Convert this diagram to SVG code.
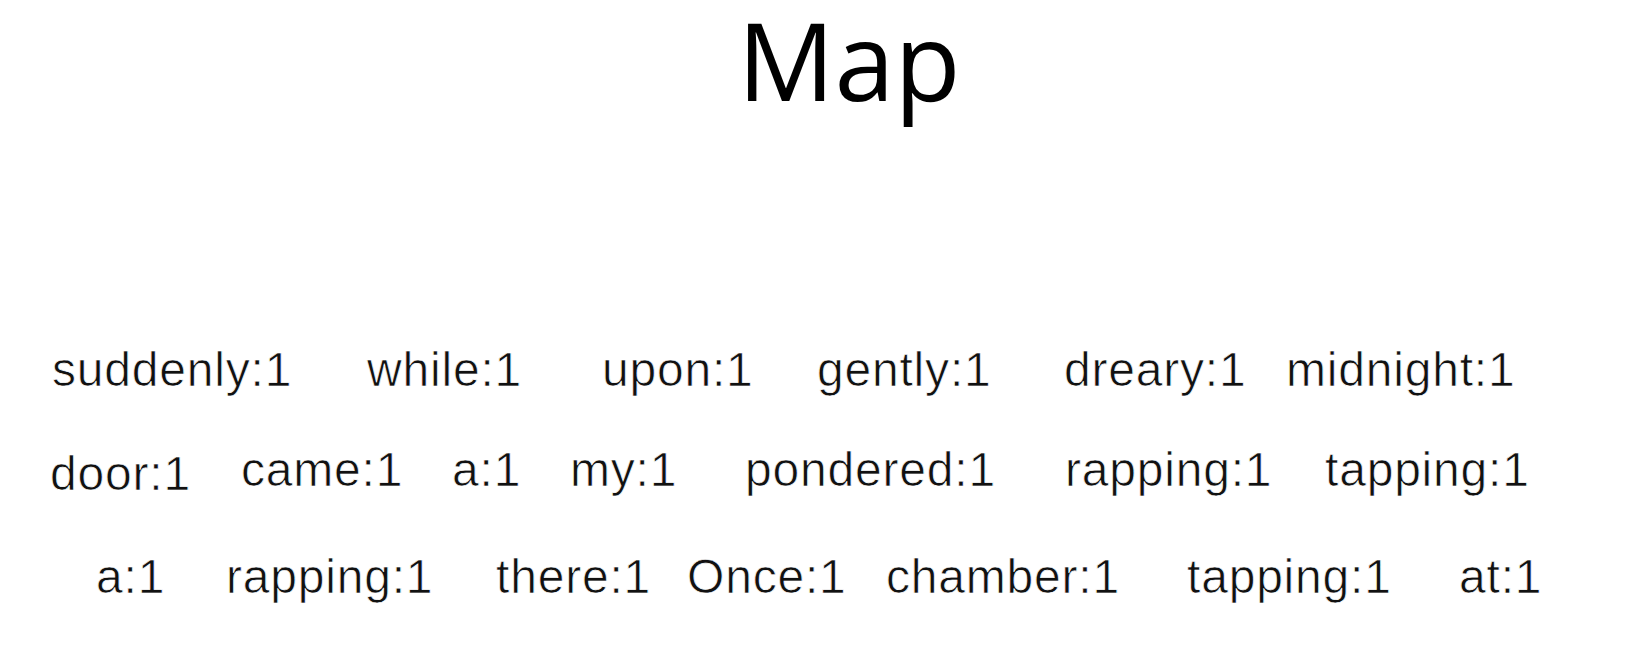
<svg xmlns="http://www.w3.org/2000/svg" width="1646" height="668" viewBox="0 0 1646 668">
<style>
.title{font-family:"Open Sans","Noto Sans",sans-serif;font-size:108px;fill:#000}
.w{font-family:"Liberation Sans",Arial,sans-serif;font-size:48px;letter-spacing:0.8px;fill:#111;stroke:#ffffff;stroke-width:0.7px}
</style>
<rect width="1646" height="668" fill="#ffffff"/>
<g id="title"><text class="title" x="849" y="101" text-anchor="middle">Map</text></g>
<g id="row1">
<g id="w1"><text class="w" x="52" y="386">suddenly:1</text></g>
<g id="w2"><text class="w" x="367" y="386">while:1</text></g>
<g id="w3"><text class="w" x="602" y="386">upon:1</text></g>
<g id="w4"><text class="w" x="817" y="386">gently:1</text></g>
<g id="w5"><text class="w" x="1064" y="386">dreary:1</text></g>
<g id="w6"><text class="w" x="1286" y="386">midnight:1</text></g>
</g>
<g id="row2">
<g id="w7"><text class="w" x="50" y="490">door:1</text></g>
<g id="w8"><text class="w" x="241" y="486">came:1</text></g>
<g id="w9"><text class="w" x="452" y="486">a:1</text></g>
<g id="w10"><text class="w" x="570" y="486">my:1</text></g>
<g id="w11"><text class="w" x="745" y="486">pondered:1</text></g>
<g id="w12"><text class="w" x="1065" y="486">rapping:1</text></g>
<g id="w13"><text class="w" x="1325" y="486">tapping:1</text></g>
</g>
<g id="row3">
<g id="w14"><text class="w" x="96" y="593">a:1</text></g>
<g id="w15"><text class="w" x="226" y="593">rapping:1</text></g>
<g id="w16"><text class="w" x="496" y="593">there:1</text></g>
<g id="w17"><text class="w" x="687" y="593">Once:1</text></g>
<g id="w18"><text class="w" x="886" y="593">chamber:1</text></g>
<g id="w19"><text class="w" x="1187" y="593">tapping:1</text></g>
<g id="w20"><text class="w" x="1459" y="593">at:1</text></g>
</g>
<g id="connectors"></g>
</svg>
